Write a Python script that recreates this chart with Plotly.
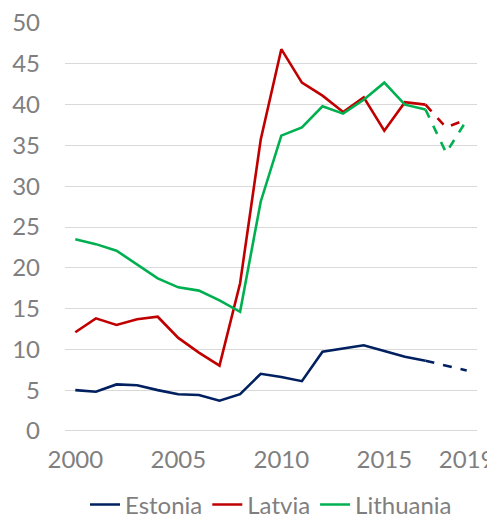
import plotly.graph_objects as go

years = list(range(2000, 2020))
estonia = [5.0, 4.8, 5.7, 5.6, 5.0, 4.5, 4.4, 3.7, 4.5, 7.0,
           6.6, 6.1, 9.7, 10.1, 10.5, 9.8, 9.1, 8.6, 8.0, 7.4]
latvia = [12.1, 13.8, 13.0, 13.7, 14.0, 11.4, 9.6, 8.0, 18.1, 35.7,
          46.8, 42.7, 41.1, 39.1, 40.9, 36.8, 40.3, 40.0, 37.2, 38.2]
lithuania = [23.5, 22.9, 22.1, 20.4, 18.7, 17.6, 17.2, 16.0, 14.6, 28.1,
             36.2, 37.2, 39.8, 38.9, 40.6, 42.7, 40.0, 39.4, 34.1, 38.1]
last_actual = 2017
x_ticks = [2000, 2005, 2010, 2015, 2019]
y_ticks = list(range(0, 51, 5))

series = [("Estonia", estonia, "#002060"),
          ("Latvia", latvia, "#C00000"),
          ("Lithuania", lithuania, "#00B050")]

font_family = "Lato, 'Open Sans', sans-serif"
gray = "#7F7F7F"
fs = 24

fig = go.Figure()
cut = years.index(last_actual)
for name, vals, color in series:
    fig.add_trace(go.Scatter(x=years[:cut + 1], y=vals[:cut + 1], mode="lines",
                             name=name, line=dict(color=color, width=2.6)))
    fig.add_trace(go.Scatter(x=years[cut:], y=vals[cut:], mode="lines",
                             name=name, showlegend=False,
                             line=dict(color=color, width=2.6, dash="dash")))

fig.update_layout(
    width=487, height=510,
    margin=dict(l=57, r=18, t=15, b=87, autoexpand=False),
    paper_bgcolor="white", plot_bgcolor="white",
    font=dict(family=font_family, size=fs, color=gray),
    showlegend=True,
    legend=dict(orientation="h", x=0.5, xanchor="center",
                y=-0.181, yanchor="middle",
                font=dict(size=fs, color=gray), itemwidth=30, tracegroupgap=0),
    xaxis=dict(range=[1999.5, 2019.5], tickvals=x_ticks, ticktext=[str(v) for v in x_ticks],
               showgrid=False, zeroline=False, showline=False, ticks="", automargin=False,
               ticklabelstandoff=12, ticklabeloverflow="allow",
               tickfont=dict(size=fs, color=gray)),
    yaxis=dict(range=[-0.01, 50.01], tickvals=y_ticks, showgrid=True, gridcolor="#D9D9D9",
               gridwidth=1.3, zeroline=True, zerolinecolor="#D9D9D9", zerolinewidth=1.3,
               showline=False, ticks="", ticklabelstandoff=24, automargin=False,
               ticklabeloverflow="allow", tickfont=dict(size=fs, color=gray)),
)

fig.write_html("out.html")
